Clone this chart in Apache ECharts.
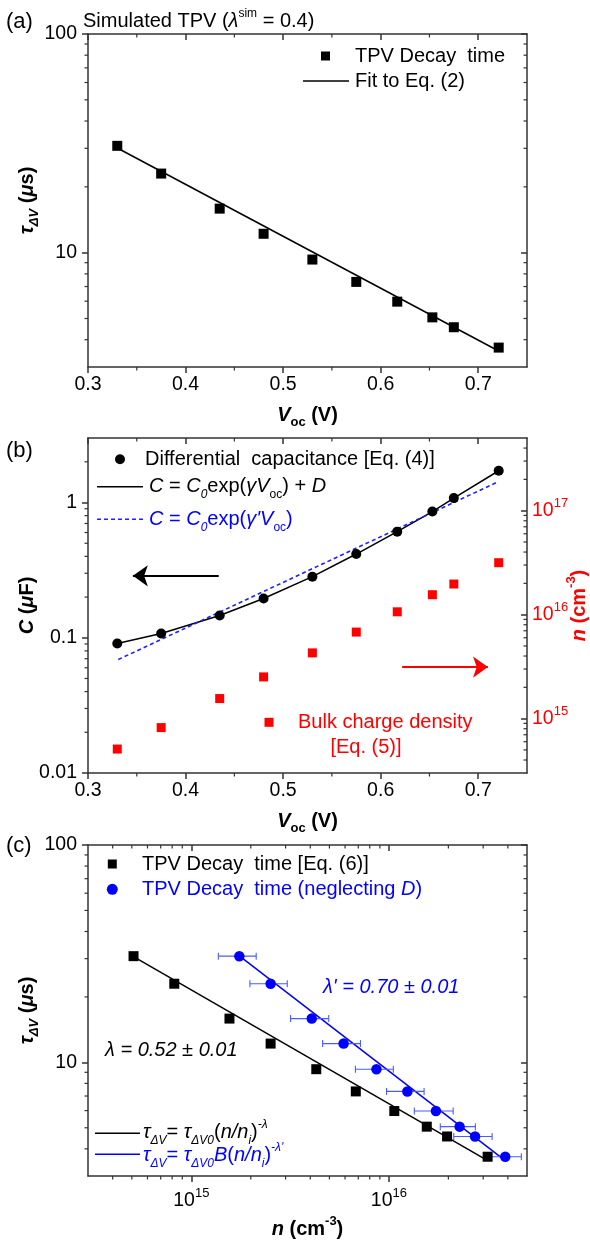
<!DOCTYPE html>
<html>
<head>
<meta charset="utf-8">
<script src="https://cdn.jsdelivr.net/npm/echarts@6/dist/echarts.min.js"></script>
<style>
  html, body { margin: 0; padding: 0; background: #fff; }
  #main { width: 590px; height: 1241px; }
</style>
</head>
<body>
<div id="main"></div>
<script>
// ---------- data ----------
// open-circuit voltage of each TPV point (V)
const vocPoints = [0.330, 0.375, 0.435, 0.480, 0.530, 0.575, 0.617, 0.653, 0.675, 0.721];
// TPV decay time (µs)
const decayTime = [30.8, 23.0, 15.9, 12.2, 9.3, 7.35, 5.97, 5.06, 4.56, 3.68];
// fit to Eq. (2): straight on the log scale, given by its end points
const fitVoc = [0.330, 0.720];
const fitDecay = [30.1, 3.57];
// differential capacitance, Eq. (4) (µF)
const capacitance = [0.0906, 0.1074, 0.146, 0.195, 0.283, 0.416, 0.609, 0.857, 1.078, 1.718];
// C = C0 exp(γ'Voc), end points
const expFitVoc = [0.331, 0.720];
const expFitCap = [0.069, 1.42];
// bulk charge density, Eq. (5) (cm^-3)
const chargeDensity = [5.1e14, 8.2e14, 1.56e15, 2.52e15, 4.29e15, 6.8e15, 1.065e16, 1.555e16, 1.97e16, 3.16e16];
// charge density when D is neglected, with its uncertainty
const densityNoD = [1.75e15, 2.52e15, 4.07e15, 5.9e15, 8.65e15, 1.24e16, 1.73e16, 2.28e16, 2.73e16, 3.88e16];
const densityNoDErr = [0.38e15, 0.54e15, 0.89e15, 1.28e15, 1.88e15, 2.67e15, 3.85e15, 4.6e15, 6.0e15, 8.0e15];
// power-law fits, end points
const fitN = [5.15e14, 3.1e16];
const fitTauN = [30.5, 3.57];
const fitNnoD = [1.75e15, 3.85e16];
const fitTauNnoD = [30.9, 3.55];
// arrows pointing to the axis each data set belongs to
const capArrow = [[0.434, 0.287], [0.346, 0.287]];
const densityArrow = [[0.622, 3.13e15], [0.710, 3.13e15]];

// ---------- ticks ----------
const vocTicks = [0.3, 0.4, 0.5, 0.6, 0.7];
const vocMinorTicks = [0.35, 0.45, 0.55, 0.65];
const tauTicks = [10, 100];
const tauMinorTicks = [4, 5, 6, 7, 8, 9, 20, 30, 40, 50, 60, 70, 80, 90];
const capTicks = [0.01, 0.1, 1];
const capMinorTicks = [0.02, 0.03, 0.04, 0.05, 0.06, 0.07, 0.08, 0.09, 0.2, 0.3, 0.4, 0.5, 0.6, 0.7, 0.8, 0.9, 2];
const densityTicks = [1e15, 1e16, 1e17];
const densityMinorTicks = [4e14, 5e14, 6e14, 7e14, 8e14, 9e14, 2e15, 3e15, 4e15, 5e15, 6e15, 7e15, 8e15, 9e15,
  2e16, 3e16, 4e16, 5e16, 6e16, 7e16, 8e16, 9e16, 2e17, 3e17, 4e17];
const nTicks = [1e15, 1e16];
const nMinorTicks = [4e14, 5e14, 6e14, 7e14, 8e14, 9e14, 2e15, 3e15, 4e15, 5e15, 6e15, 7e15, 8e15, 9e15,
  2e16, 3e16, 4e16];

// axis ranges
const vocRange = [0.3, 0.75];
const tauRange = [3, 100];
const capRange = [0.01, 3];
const densityRange = [3e14, 5e17];
const nRange = [3e14, 5e16];

// ---------- styling ----------
const FONT = '"Liberation Sans", Arial, Helvetica, sans-serif';
const INK = '#000000';
const FRAME = '#333333';
const BLUE = '#0000ff';
const RED = '#ff0000';
const MAJOR = 6, MINOR = 3.5;

const pairs = (xs, ys) => xs.map((x, i) => [x, ys[i]]);
const pow10Label = v => '10{s|' + Math.round(Math.log10(v)) + '}';

function axisBase(gridIndex, type, range) {
  const a = {
    gridIndex, type, min: range[0], max: range[1],
    splitLine: { show: false }, minorTick: { show: false }, minorSplitLine: { show: false },
    axisPointer: { show: false }, silent: true, nameMoveOverlap: false
  };
  if (type === 'log') a.logBase = 10;
  return a;
}

function frameAxis(gridIndex, type, range, position, ticks, label, extra) {
  const inside = position === 'top' || position === 'right';
  return Object.assign(axisBase(gridIndex, type, range), {
    position,
    axisLine: { show: true, onZero: false, lineStyle: { color: FRAME, width: 1.5 } },
    axisTick: { show: true, inside, length: MAJOR, customValues: ticks, lineStyle: { color: FRAME, width: 1.5 } },
    axisLabel: label
      ? Object.assign({ show: true, customValues: ticks, fontFamily: FONT, fontSize: 19.5, color: INK }, label)
      : { show: false }
  }, extra || {});
}

// rich text pieces used by axis names (ECharts text style)
function nameRich(color) {
  const b = { fontFamily: FONT, fontSize: 20, fontWeight: 'bold', color, lineHeight: 28, verticalAlign: 'middle' };
  return {
    b: b,
    i: Object.assign({}, b, { fontStyle: 'italic' }),
    sub: { fontFamily: FONT, fontSize: 13, fontWeight: 'bold', color, lineHeight: 13, verticalAlign: 'bottom' },
    isub: { fontFamily: FONT, fontSize: 13, fontWeight: 'bold', fontStyle: 'italic', color, lineHeight: 13, verticalAlign: 'bottom' },
    sup: { fontFamily: FONT, fontSize: 13, fontWeight: 'bold', color, lineHeight: 13, verticalAlign: 'top' }
  };
}
function axisName(text, gap, color) {
  return {
    name: text, nameLocation: 'middle', nameGap: gap,
    nameTextStyle: { fontFamily: FONT, fontSize: 20, fontWeight: 'bold', color, lineHeight: 28, rich: nameRich(color) }
  };
}
const powLabel = color => ({
  formatter: pow10Label, lineHeight: 27,
  rich: { s: { fontFamily: FONT, fontSize: 13, color, lineHeight: 13, verticalAlign: 'top' } }
});

// short ticks between the labelled ones, drawn on the frame of one grid
function minorTicks(xi, yi, xr, yr, xs, ys, sides) {
  const data = xs.map(v => [v, yr[0]]).concat(ys.map(v => [xr[0], v]));
  const seg = (x1, y1, x2, y2) => ({
    type: 'line', shape: { x1, y1, x2, y2 }, style: { stroke: FRAME, lineWidth: 1.2 }
  });
  return {
    type: 'custom', xAxisIndex: xi, yAxisIndex: yi, data, silent: true, clip: false, z: 6,
    renderItem(params, api) {
      const children = [];
      if (params.dataIndex < xs.length) {
        const v = api.value(0);
        const b = api.coord([v, yr[0]]);
        const t = api.coord([v, yr[1]]);
        if (sides.b) children.push(seg(b[0], b[1], b[0], b[1] + MINOR));
        if (sides.t) children.push(seg(t[0], t[1], t[0], t[1] + MINOR));
      } else {
        const v = api.value(1);
        const l = api.coord([xr[0], v]);
        const r = api.coord([xr[1], v]);
        if (sides.l) children.push(seg(l[0] - MINOR, l[1], l[0], l[1]));
        if (sides.r) children.push(seg(r[0] - MINOR, r[1], r[0], r[1]));
      }
      return { type: 'group', children };
    }
  };
}

function arrowLine(pts, color) {
  return {
    silent: true, symbol: ['none', 'arrow'], symbolSize: [16, 15], label: { show: false },
    lineStyle: { color, width: 2, type: 'solid' }, emphasis: { disabled: true },
    data: [[{ coord: pts[0] }, { coord: pts[1] }]]
  };
}

// ---------- free text (zrender style) ----------
function textRich(size, color) {
  const base = { fontFamily: FONT, fontSize: size, lineHeight: size + 8, fill: color, verticalAlign: 'middle' };
  const s = Math.round(size * 0.62);
  const small = { fontFamily: FONT, fontSize: s, lineHeight: s, fill: color };
  return {
    n: base,
    i: Object.assign({}, base, { fontStyle: 'italic' }),
    sub: Object.assign({}, small, { verticalAlign: 'bottom' }),
    isub: Object.assign({}, small, { verticalAlign: 'bottom', fontStyle: 'italic' }),
    sup: Object.assign({}, small, { verticalAlign: 'top' }),
    isup: Object.assign({}, small, { verticalAlign: 'top', fontStyle: 'italic' })
  };
}
function text(x, y, str, size, color, align) {
  return {
    type: 'text', x, y, silent: true, z: 100,
    style: {
      text: str, fill: color, fontFamily: FONT, fontSize: size, lineHeight: size + 8,
      align: align || 'left', verticalAlign: 'middle', rich: textRich(size, color)
    }
  };
}
const square = (cx, cy, s, color) => ({ type: 'rect', silent: true, z: 100, shape: { x: cx - s / 2, y: cy - s / 2, width: s, height: s }, style: { fill: color } });
const dot = (cx, cy, r, color) => ({ type: 'circle', silent: true, z: 100, shape: { cx, cy, r }, style: { fill: color } });
const sampleLine = (x1, x2, y, color, dash) => ({ type: 'line', silent: true, z: 100, shape: { x1, y1: y, x2, y2: y }, style: { stroke: color, lineWidth: 1.6, lineDash: dash || null } });

const graphics = [
  // (a)
  text(6, 22, '{n|(a)}', 22, INK),
  text(83, 21.5, '{n|Simulated TPV (}{i|λ}{sup|sim}{n| = 0.4)}', 20, INK),
  square(325.5, 56, 9, INK),
  text(355, 56, '{n|TPV Decay  time}', 20, INK),
  sampleLine(303, 349, 81, INK),
  text(355, 81, '{n|Fit to Eq. (2)}', 20, INK),
  // (b)
  text(6, 451, '{n|(b)}', 22, INK),
  dot(120, 459.3, 5, INK),
  text(145, 459.3, '{n|Differential  capacitance [Eq. (4)]}', 20, INK),
  sampleLine(97, 143, 486.7, INK),
  text(149, 486.7, '{i|C}{n| = }{i|C}{isub|0}{n|exp(}{i|γV}{sub|oc}{n|) + }{i|D}', 20, INK),
  sampleLine(97, 143, 519.3, '#1f1fff', [4, 3]),
  text(149, 519.3, '{i|C}{n| = }{i|C}{isub|0}{n|exp(}{i|γ\'V}{sub|oc}{n|)}', 20, BLUE),
  square(269, 722.3, 9, RED),
  text(298, 722.3, '{n|Bulk charge density}', 20, RED),
  text(366, 747, '{n|[Eq. (5)]}', 20, RED, 'center'),
  // (c)
  text(6, 846, '{n|(c)}', 22, INK),
  square(112.3, 864, 9, INK),
  text(142, 864, '{n|TPV Decay  time [Eq. (6)]}', 20, INK),
  dot(112.3, 889.3, 5.5, BLUE),
  text(142, 889.3, '{n|TPV Decay  time (neglecting }{i|D}{n|)}', 20, BLUE),
  text(323, 987, '{i|λ\' = 0.70 ± 0.01}', 20, BLUE),
  text(105, 1050, '{i|λ = 0.52 ± 0.01}', 20, INK),
  sampleLine(95, 140, 1133.3, INK),
  text(143, 1132.3, '{i|τ}{isub|ΔV}{n|= }{i|τ}{isub|ΔV0}{n|(}{i|n/n}{isub|i}{n|)}{isup|-λ}', 20, INK),
  sampleLine(95, 140, 1154.3, BLUE),
  text(143, 1155.3, '{i|τ}{isub|ΔV}{n|= }{i|τ}{isub|ΔV0}{i|B}{n|(}{i|n/n}{isub|i}{n|)}{isup|-λ\'}', 20, BLUE)
];

// ---------- chart ----------
const grids = [
  { left: 88, top: 34, width: 439, height: 333 },
  { left: 88, top: 438, width: 439, height: 335 },
  { left: 88, top: 845, width: 439, height: 331 }
].map(g => Object.assign(g, { containLabel: false, outerBoundsMode: 'none', show: false }));

const vocName = '{i|V}{sub|oc}{b| (V)}';
const tauName = '{i|τ}{isub|ΔV}{b| (}{i|μ}{b|s)}';

// axis indices: x 0/1 = (a) bottom/top, 2/3 = (b), 4/5 = (c)
//               y 0/1 = (a) left/right, 2 = (b) C, 3 = (b) n, 4/5 = (c)
const option = {
  animation: false,
  backgroundColor: '#ffffff',
  grid: grids,
  xAxis: [
    frameAxis(0, 'value', vocRange, 'bottom', vocTicks, { margin: 8, formatter: v => v.toFixed(1) }, axisName(vocName, 34, INK)),
    frameAxis(0, 'value', vocRange, 'top', vocTicks, null),
    frameAxis(1, 'value', vocRange, 'bottom', vocTicks, { margin: 8, formatter: v => v.toFixed(1) }, axisName(vocName, 34, INK)),
    frameAxis(1, 'value', vocRange, 'top', vocTicks, null),
    frameAxis(2, 'log', nRange, 'bottom', nTicks, Object.assign({ margin: 11 }, powLabel(INK)),
      axisName('{i|n}{b| (cm}{sup|-3}{b|)}', 39, INK)),
    frameAxis(2, 'log', nRange, 'top', nTicks, null)
  ],
  yAxis: [
    frameAxis(0, 'log', tauRange, 'left', tauTicks, { margin: 11, formatter: v => String(Math.round(v)) }, axisName(tauName, 47, INK)),
    frameAxis(0, 'log', tauRange, 'right', tauTicks, null),
    frameAxis(1, 'log', capRange, 'left', capTicks, { margin: 11, formatter: v => String(v) },
      axisName('{i|C}{b| (}{i|μ}{b|F)}', 47, INK)),
    frameAxis(1, 'log', densityRange, 'right', densityTicks, Object.assign({ margin: 5, color: RED }, powLabel(RED)),
      axisName('{i|n}{b| (cm}{sup|-3}{b|)}', 38, RED)),
    frameAxis(2, 'log', tauRange, 'left', tauTicks, { margin: 11, formatter: v => String(Math.round(v)) }, axisName(tauName, 47, INK)),
    frameAxis(2, 'log', tauRange, 'right', tauTicks, null)
  ],
  series: [
    // (a) decay time vs Voc
    { type: 'line', name: 'Fit to Eq. (2)', xAxisIndex: 0, yAxisIndex: 0, data: pairs(fitVoc, fitDecay),
      symbol: 'none', lineStyle: { color: INK, width: 1.5 }, silent: true, z: 2 },
    { type: 'scatter', name: 'TPV Decay time', xAxisIndex: 0, yAxisIndex: 0, data: pairs(vocPoints, decayTime),
      symbol: 'rect', symbolSize: 10, itemStyle: { color: INK, opacity: 1 }, silent: true, z: 3 },
    minorTicks(0, 0, vocRange, tauRange, vocMinorTicks, tauMinorTicks, { b: 1, t: 1, l: 1, r: 1 }),

    // (b) capacitance and charge density vs Voc
    { type: 'line', name: 'C = C0 exp(γVoc) + D', xAxisIndex: 2, yAxisIndex: 2, data: pairs(vocPoints, capacitance),
      symbol: 'none', lineStyle: { color: INK, width: 1.5 }, silent: true, z: 2 },
    { type: 'line', name: "C = C0 exp(γ'Voc)", xAxisIndex: 2, yAxisIndex: 2, data: pairs(expFitVoc, expFitCap),
      symbol: 'none', lineStyle: { color: '#1f1fff', width: 1.6, type: [4, 3] }, silent: true, z: 3 },
    { type: 'scatter', name: 'Differential capacitance', xAxisIndex: 2, yAxisIndex: 2, data: pairs(vocPoints, capacitance),
      symbol: 'circle', symbolSize: 10, itemStyle: { color: INK, opacity: 1 }, silent: true, z: 4,
      markLine: arrowLine(capArrow, INK) },
    { type: 'scatter', name: 'Bulk charge density', xAxisIndex: 2, yAxisIndex: 3, data: pairs(vocPoints, chargeDensity),
      symbol: 'rect', symbolSize: 9, itemStyle: { color: RED, opacity: 1 }, silent: true, z: 4,
      markLine: arrowLine(densityArrow, RED) },
    minorTicks(2, 2, vocRange, capRange, vocMinorTicks, capMinorTicks, { b: 1, t: 1, l: 1, r: 0 }),
    minorTicks(2, 3, vocRange, densityRange, [], densityMinorTicks, { l: 0, r: 1 }),

    // (c) decay time vs charge density
    { type: 'line', name: 'power law', xAxisIndex: 4, yAxisIndex: 4, data: pairs(fitN, fitTauN),
      symbol: 'none', lineStyle: { color: INK, width: 1.5 }, silent: true, z: 2 },
    { type: 'line', name: 'power law, D neglected', xAxisIndex: 4, yAxisIndex: 4, data: pairs(fitNnoD, fitTauNnoD),
      symbol: 'none', lineStyle: { color: BLUE, width: 1.5 }, silent: true, z: 2 },
    { type: 'custom', name: 'n uncertainty', xAxisIndex: 4, yAxisIndex: 4, silent: true, z: 3,
      data: densityNoD.map((n, i) => [n - densityNoDErr[i], n + densityNoDErr[i], decayTime[i]]),
      encode: { x: [0, 1], y: 2 },
      renderItem(params, api) {
        const lo = api.coord([api.value(0), api.value(2)]);
        const hi = api.coord([api.value(1), api.value(2)]);
        const st = { stroke: '#4a5cff', lineWidth: 1.1 };
        return { type: 'group', children: [
          { type: 'line', shape: { x1: lo[0], y1: lo[1], x2: hi[0], y2: hi[1] }, style: st },
          { type: 'line', shape: { x1: lo[0], y1: lo[1] - 3.5, x2: lo[0], y2: lo[1] + 3.5 }, style: st },
          { type: 'line', shape: { x1: hi[0], y1: hi[1] - 3.5, x2: hi[0], y2: hi[1] + 3.5 }, style: st }
        ] };
      } },
    { type: 'scatter', name: 'TPV Decay time [Eq. (6)]', xAxisIndex: 4, yAxisIndex: 4, data: pairs(chargeDensity, decayTime),
      symbol: 'rect', symbolSize: 10, itemStyle: { color: INK, opacity: 1 }, silent: true, z: 4 },
    { type: 'scatter', name: 'TPV Decay time (neglecting D)', xAxisIndex: 4, yAxisIndex: 4, data: pairs(densityNoD, decayTime),
      symbol: 'circle', symbolSize: 10.5, itemStyle: { color: BLUE, opacity: 1 }, silent: true, z: 4 },
    minorTicks(4, 4, nRange, tauRange, nMinorTicks, tauMinorTicks, { b: 1, t: 1, l: 1, r: 1 })
  ],
  graphic: graphics
};

const chart = echarts.init(document.getElementById('main'), null, { renderer: 'canvas' });
chart.setOption(option);
</script>
</body>
</html>
